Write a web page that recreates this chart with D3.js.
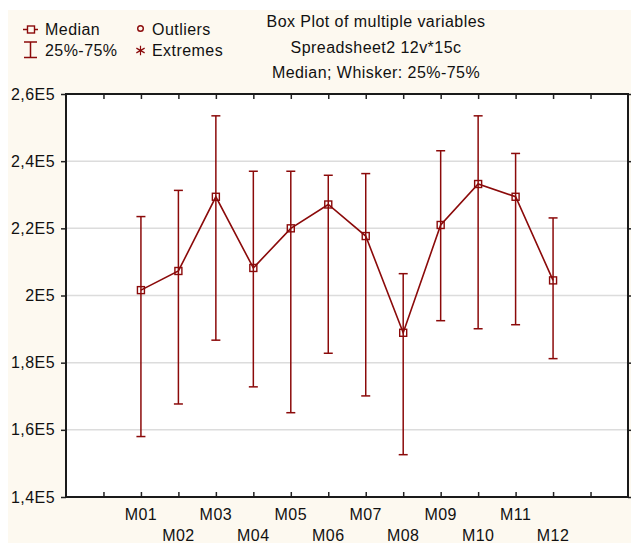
<!DOCTYPE html>
<html>
<head>
<meta charset="utf-8">
<script src="https://cdn.jsdelivr.net/npm/d3@7"></script>
<style>
  body { margin: 0; background: #fff; }
  svg { display: block; font-family: "Liberation Sans", Arial, sans-serif; }
  text { letter-spacing: 0.45px; }
</style>
</head>
<body>
<script>
const categories = ["M01", "M02", "M03", "M04", "M05", "M06", "M07", "M08", "M09", "M10", "M11", "M12"];
const medians = [201600, 207300, 229400, 208200, 220000, 227100, 217700, 188900, 221000, 233200, 229400, 204500];
const q75 = [223500, 231300, 253500, 237000, 237000, 235800, 236300, 206500, 243100, 253500, 242300, 223100];
const q25 = [158000, 167700, 186700, 172800, 165100, 182800, 170100, 152600, 192500, 190100, 191300, 181200];
const yTicks = [140000, 160000, 180000, 200000, 220000, 240000, 260000];
const titleLines = ["Box Plot of multiple variables", "Spreadsheet2 12v*15c", "Median; Whisker: 25%-75%"];

const width = 631;
const height = 543;
const margin = { top: 94, right: 2, bottom: 46, left: 66 };
const red = "#8b0a0a";

const data = categories.map((c, i) => ({ cat: c, i: i, med: medians[i], lo: q25[i], hi: q75[i] }));

const svg = d3.select("body").append("svg")
  .attr("width", width)
  .attr("height", height);

// cream backdrop
svg.append("rect")
  .attr("x", 8).attr("y", 10)
  .attr("width", width - 8).attr("height", height - 10)
  .attr("fill", "#fdf9f0");

const x = d3.scaleLinear()
  .domain([0, 15])
  .range([margin.left, width - margin.right - 1]);

const y = d3.scaleLinear()
  .domain([140000, 260000])
  .range([height - margin.bottom, margin.top]);

const pos = (i) => x(i + 2);

svg.append("rect")
  .attr("x", x(0)).attr("y", y(260000))
  .attr("width", x(15) - x(0)).attr("height", y(140000) - y(260000))
  .attr("fill", "#fff");

// grid
svg.append("g")
  .selectAll("line")
  .data(yTicks.slice(1, -1))
  .join("line")
  .attr("x1", x(0)).attr("x2", x(15))
  .attr("y1", (d) => y(d)).attr("y2", (d) => y(d))
  .attr("stroke", "#dcdcdc")
  .attr("stroke-width", 1.5);

const fmt = (d) => (d === 200000 ? "2E5" : d3.format(".1f")(d / 1e5).replace(".", ",") + "E5");

// left axis
const yAxis = svg.append("g")
  .attr("transform", `translate(${x(0)},0)`)
  .call(d3.axisLeft(y).tickValues(yTicks).tickFormat(fmt).tickSize(5).tickPadding(6));
yAxis.select(".domain").remove();
yAxis.selectAll("text").attr("font-size", 16).attr("fill", "#111").attr("font-family", "Liberation Sans, Arial, sans-serif");
yAxis.selectAll(".tick line").attr("stroke", "#222").attr("stroke-width", 1.5);

// right axis (inward ticks)
const yAxisR = svg.append("g")
  .attr("transform", `translate(${x(15)},0)`)
  .call(d3.axisLeft(y).tickValues(yTicks).tickFormat("").tickSizeInner(-5).tickSizeOuter(0));
yAxisR.select(".domain").remove();
yAxisR.selectAll(".tick line").attr("stroke", "#222").attr("stroke-width", 1.5);

// bottom + top axes (inward ticks)
const xTickVals = d3.range(1, 15);
const xAxis = svg.append("g")
  .attr("transform", `translate(0,${y(140000)})`)
  .call(d3.axisBottom(x).tickValues(xTickVals).tickFormat("").tickSizeInner(-5).tickSizeOuter(0));
xAxis.select(".domain").remove();
xAxis.selectAll(".tick line").attr("stroke", "#222").attr("stroke-width", 1.5);

const xTop = svg.append("g")
  .attr("transform", `translate(0,${y(260000)})`)
  .call(d3.axisTop(x).tickValues(xTickVals).tickFormat("").tickSizeInner(-5).tickSizeOuter(0));
xTop.select(".domain").remove();
xTop.selectAll(".tick line").attr("stroke", "#222").attr("stroke-width", 1.5);

// category labels on two rows
svg.append("g")
  .selectAll("text")
  .data(data)
  .join("text")
  .attr("x", (d) => pos(d.i))
  .attr("y", (d) => (d.i % 2 === 0 ? 520 : 541))
  .attr("text-anchor", "middle")
  .attr("font-size", 16)
  .attr("fill", "#111")
  .text((d) => d.cat);

// frame
svg.append("rect")
  .attr("x", x(0)).attr("y", y(260000))
  .attr("width", x(15) - x(0)).attr("height", y(140000) - y(260000))
  .attr("fill", "none")
  .attr("stroke", "#1a1a1a")
  .attr("stroke-width", 2);

// whiskers
const wg = svg.append("g").attr("stroke", red).attr("stroke-width", 1.5).attr("fill", "none");
wg.selectAll(".stem")
  .data(data)
  .join("line")
  .attr("x1", (d) => pos(d.i)).attr("x2", (d) => pos(d.i))
  .attr("y1", (d) => y(d.lo)).attr("y2", (d) => y(d.hi));
wg.selectAll(".capTop")
  .data(data)
  .join("line")
  .attr("x1", (d) => pos(d.i) - 4.5).attr("x2", (d) => pos(d.i) + 4.5)
  .attr("y1", (d) => y(d.hi)).attr("y2", (d) => y(d.hi));
wg.selectAll(".capBot")
  .data(data)
  .join("line")
  .attr("x1", (d) => pos(d.i) - 4.5).attr("x2", (d) => pos(d.i) + 4.5)
  .attr("y1", (d) => y(d.lo)).attr("y2", (d) => y(d.lo));

// median line
svg.append("path")
  .datum(data)
  .attr("fill", "none")
  .attr("stroke", red)
  .attr("stroke-width", 1.6)
  .attr("d", d3.line().x((d) => pos(d.i)).y((d) => y(d.med)));

svg.append("g")
  .selectAll("rect")
  .data(data)
  .join("rect")
  .attr("x", (d) => pos(d.i) - 3.5)
  .attr("y", (d) => y(d.med) - 3.5)
  .attr("width", 7).attr("height", 7)
  .attr("fill", "none")
  .attr("stroke", red)
  .attr("stroke-width", 1.4);

// title
svg.append("g")
  .selectAll("text")
  .data(titleLines)
  .join("text")
  .attr("x", 376)
  .attr("y", (d, i) => 27 + i * 25.5)
  .attr("text-anchor", "middle")
  .attr("font-size", 16)
  .attr("fill", "#111")
  .text((d) => d);

// legend
const leg = svg.append("g");
leg.append("line").attr("x1", 23).attr("x2", 38).attr("y1", 29.5).attr("y2", 29.5)
  .attr("stroke", red).attr("stroke-width", 1.5);
leg.append("rect").attr("x", 27.5).attr("y", 26).attr("width", 7).attr("height", 7)
  .attr("fill", "#fdf9f0").attr("stroke", red).attr("stroke-width", 1.4);
leg.append("text").attr("x", 45).attr("y", 35).attr("font-size", 16).attr("fill", "#111").text("Median");

leg.append("line").attr("x1", 30.5).attr("x2", 30.5).attr("y1", 42).attr("y2", 57.5)
  .attr("stroke", red).attr("stroke-width", 1.5);
leg.append("line").attr("x1", 24).attr("x2", 37).attr("y1", 42).attr("y2", 42)
  .attr("stroke", red).attr("stroke-width", 1.5);
leg.append("line").attr("x1", 24).attr("x2", 37).attr("y1", 57.5).attr("y2", 57.5)
  .attr("stroke", red).attr("stroke-width", 1.5);
leg.append("text").attr("x", 45).attr("y", 56).attr("font-size", 16).attr("fill", "#111").text("25%-75%");

leg.append("circle").attr("cx", 140.5).attr("cy", 28.5).attr("r", 2.8)
  .attr("fill", "none").attr("stroke", red).attr("stroke-width", 1.4);
leg.append("text").attr("x", 152).attr("y", 35).attr("font-size", 16).attr("fill", "#111").text("Outliers");

leg.append("path")
  .attr("transform", "translate(140.5,50.5)")
  .attr("d", d3.symbol(d3.symbolAsterisk, 64)())
  .attr("fill", "none").attr("stroke", red).attr("stroke-width", 1.2);
leg.append("text").attr("x", 152).attr("y", 56).attr("font-size", 16).attr("fill", "#111").text("Extremes");
</script>
</body>
</html>
